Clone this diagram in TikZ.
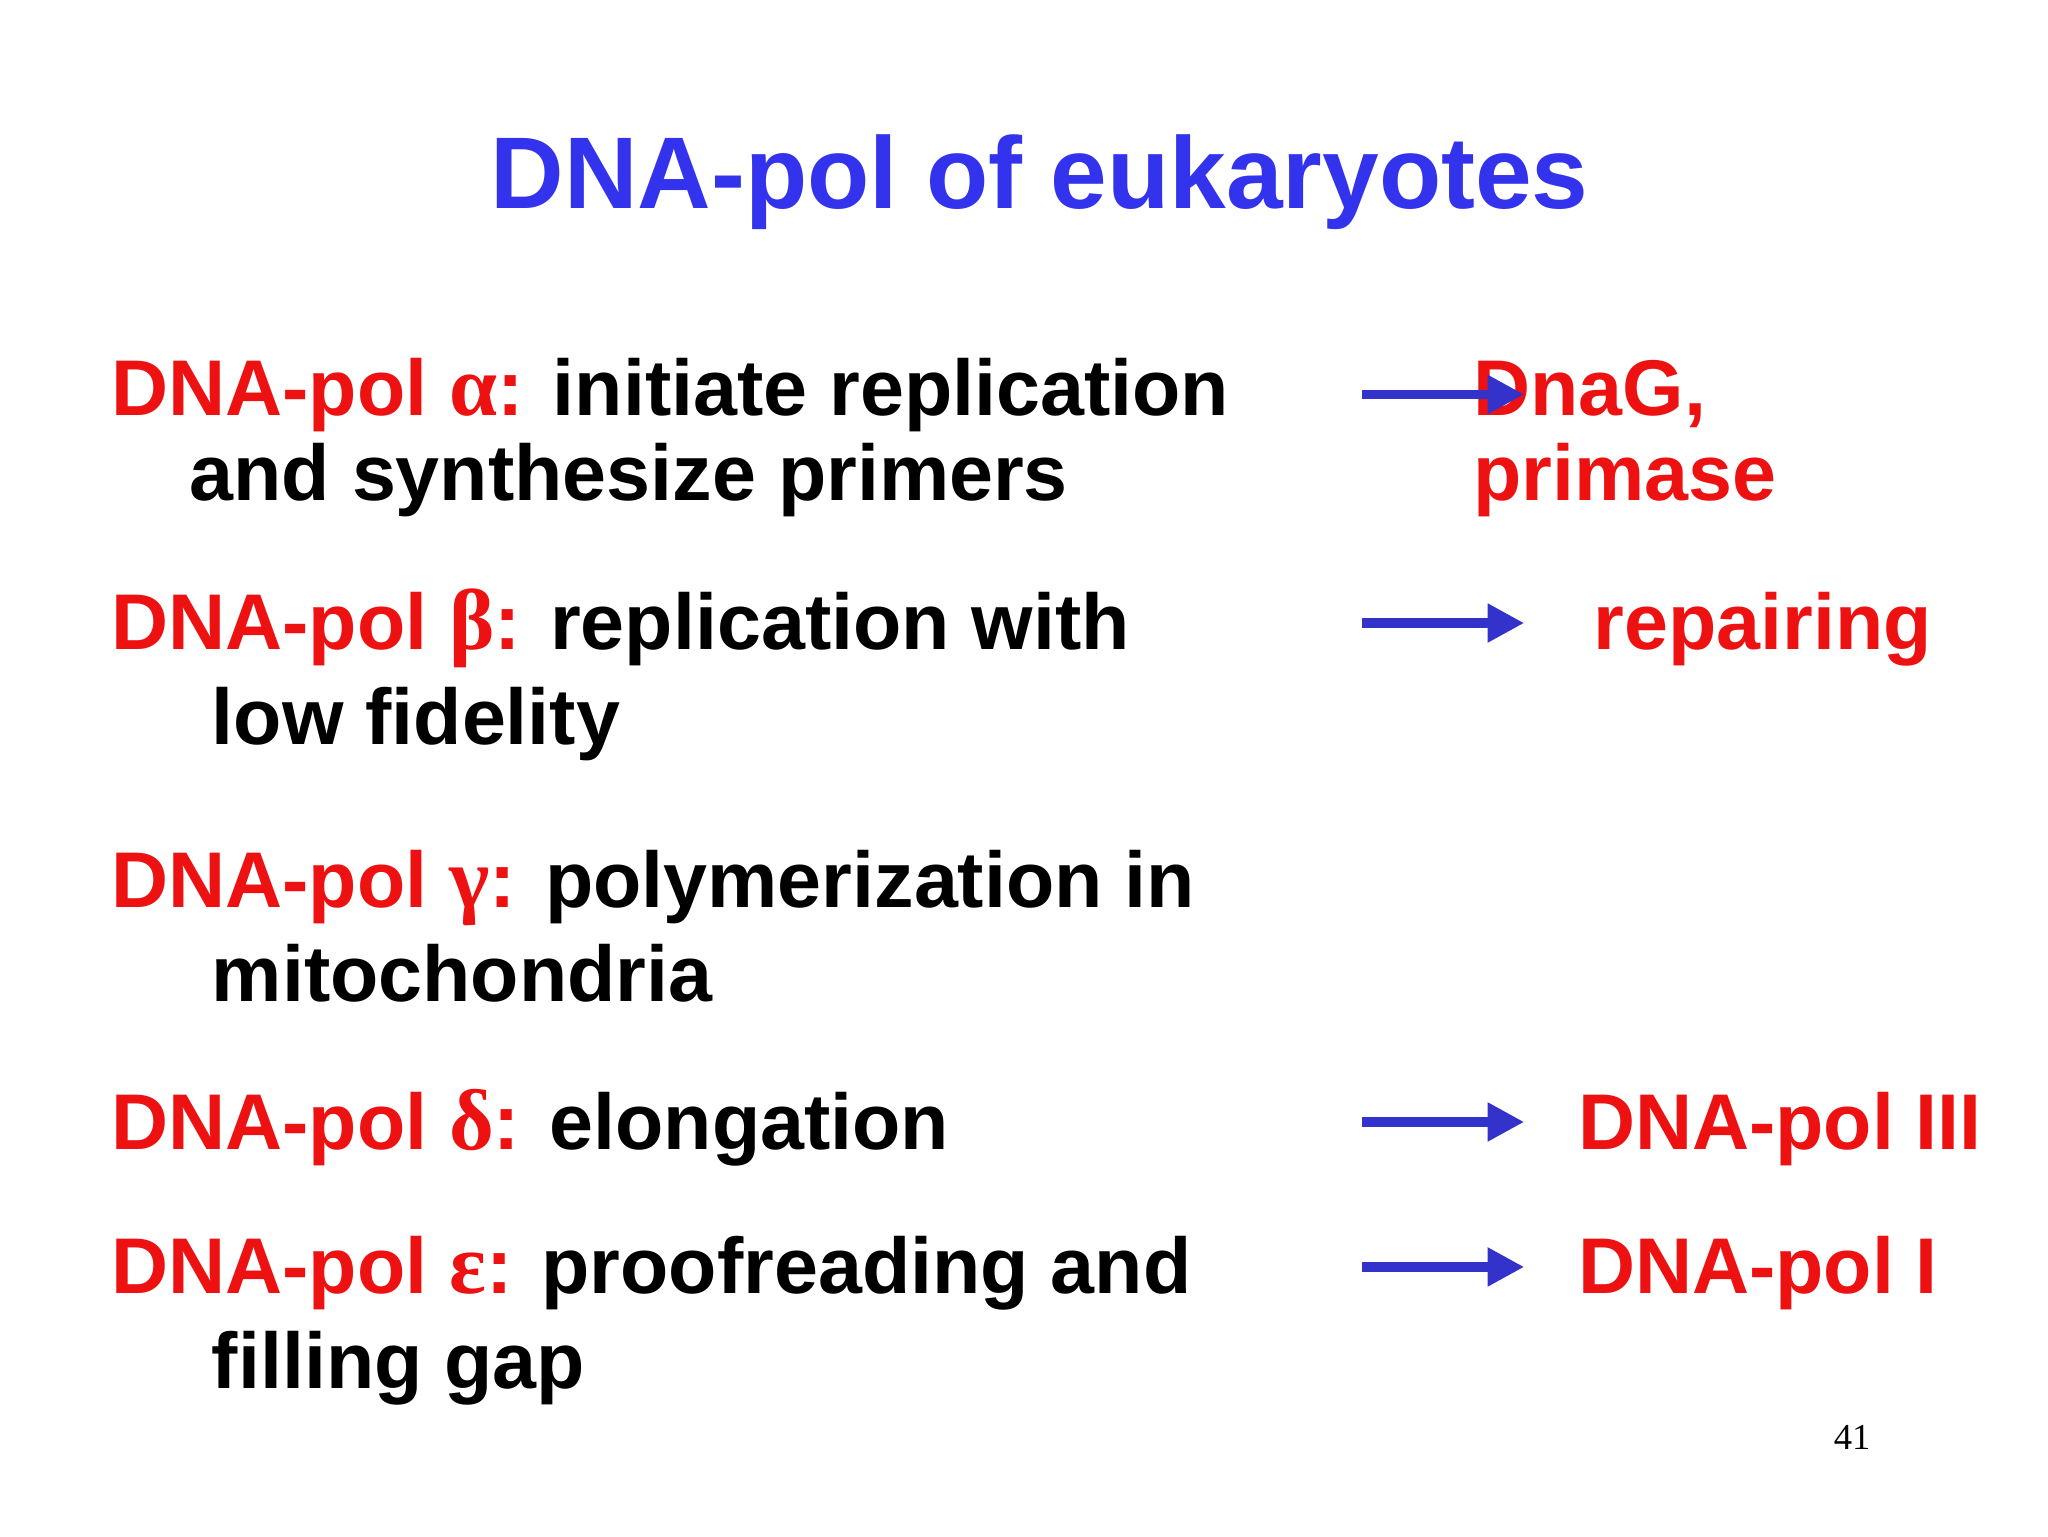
\documentclass[tikz,border=0pt]{standalone}
\usepackage{fontspec}
\setmainfont{Liberation Sans}
\newfontfamily\grk{Liberation Serif}
\newfontfamily\numf{Liberation Serif}
\usetikzlibrary{arrows.meta}
\definecolor{rd}{HTML}{EE1111}
\definecolor{tb}{HTML}{3333EE}
\definecolor{ab}{HTML}{3333CC}
\newcommand{\gk}[1]{{\grk\fontsize{66}{70}\selectfont #1}}
\begin{document}
\begin{tikzpicture}[x=1pt,y=1pt,
 txt/.style={anchor=base west,inner sep=0pt,font=\fontsize{60.5}{64}\selectfont\bfseries},
 arr/.style={draw=ab,line width=7pt,-{Triangle[length=28pt,width=28pt]}}]
\useasboundingbox (0,0) rectangle (1568,-1176);
\fill[white] (0,0) rectangle (1568,-1176);
\node[anchor=base,inner sep=0pt,font=\fontsize{78}{82}\selectfont\bfseries,text=tb] (title) at (796,-160) {DNA-pol of eukaryotes};
\node[txt] (a1) at (85,-318) {\textcolor{rd}{DNA-pol \gk{α}:} initiate replication};
\node[txt] (a2) at (145,-383) {and synthesize primers};
\node[txt] (b1) at (85,-497) {\textcolor{rd}{DNA-pol \gk{β}:} replication with};
\node[txt] (b2) at (162,-570) {low fidelity};
\node[txt] (g1) at (85,-695) {\textcolor{rd}{DNA-pol \gk{γ}:} polymerization in};
\node[txt] (g2) at (162,-767) {mitochondria};
\node[txt] (d1) at (85,-880) {\textcolor{rd}{DNA-pol \gk{δ}:} elongation};
\node[txt] (e1) at (85,-990) {\textcolor{rd}{DNA-pol \gk{ε}:} proofreading and};
\node[txt] (e2) at (162,-1063) {filling gap};
\node[txt,text=rd] (r1) at (1128,-318) {DnaG,};
\node[txt,text=rd] (r1b) at (1128,-383) {primase};
\node[txt,text=rd] (r2) at (1220,-497) {repairing};
\node[txt,text=rd] (r3) at (1208,-880) {DNA-pol III};
\node[txt,text=rd] (r4) at (1208,-990) {DNA-pol I};
\coordinate (s1) at (1043,-302); \coordinate (t1) at (1167,-302);
\coordinate (s2) at (1043,-477); \coordinate (t2) at (1167,-477);
\coordinate (s3) at (1043,-859); \coordinate (t3) at (1167,-859);
\coordinate (s4) at (1043,-970); \coordinate (t4) at (1167,-970);
\draw[arr] (s1) -- (t1);
\draw[arr] (s2) -- (t2);
\draw[arr] (s3) -- (t3);
\draw[arr] (s4) -- (t4);
\node[anchor=base,inner sep=0pt,font=\numf\fontsize{28}{30}\selectfont] (pg) at (1418,-1110) {41};
\end{tikzpicture}
\end{document}
